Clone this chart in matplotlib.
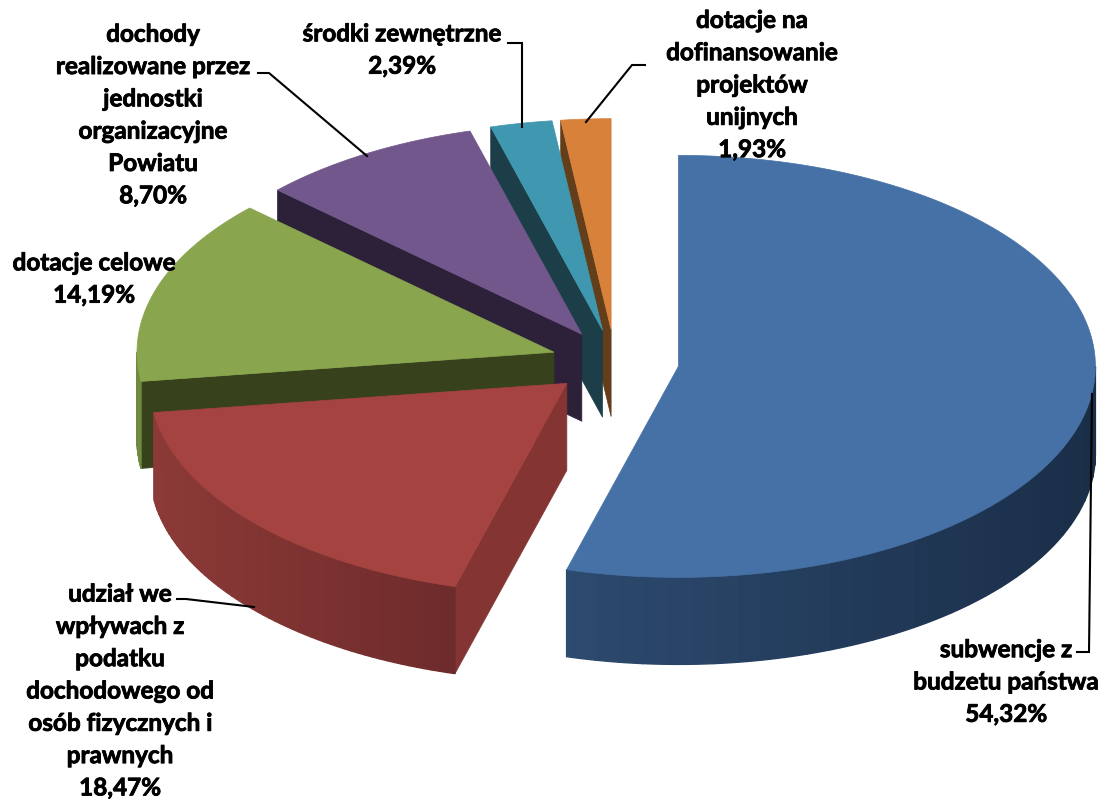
#!/usr/bin/env python3
"""
Exploded 3D pie chart of budget income shares
"""
import numpy as np
import matplotlib
matplotlib.use("Agg")
import matplotlib.pyplot as plt
import matplotlib.patheffects as pe
from matplotlib.colors import to_rgb

# Data, clockwise from 12 o'clock
labels = [
    "subwencje z\nbudzetu państwa",
    "udział we\nwpływach z\npodatku\ndochodowego od\nosób fizycznych i\nprawnych",
    "dotacje celowe",
    "dochody\nrealizowane przez\njednostki\norganizacyjne\nPowiatu",
    "środki zewnętrzne",
    "dotacje na\ndofinansowanie\nprojektów\nunijnych",
]
values = [54.32, 18.47, 14.19, 8.70, 2.39, 1.93]

# Colours: top face, outer side (left end, right end of the strip), radial side
top_colors = ["#4671A6", "#A54340", "#89A54E", "#71578C", "#4097B0", "#D8813B"]
rim_light = ["#2D4B70", "#8C3A37", "#6F8A3E", "#4A3A5E", "#2A5A6A", "#8A5020"]
rim_dark = ["#1A2E48", "#6E2B2B", "#6F8A3E", "#4A3A5E", "#2A5A6A", "#8A5020"]
side_colors = ["#2B4669", "#843533", "#37411C", "#2C2139", "#1B3E49", "#633E1A"]

# Layout in image pixels
CX, CY = 615, 362
RX, RY = 417, 211
EXPLODE = 64
DEPTH = 87

label_pos = [(1006, 682), (120, 691), (94, 279), (153, 115), (402, 50), (752, 85)]
leaders = [
    [(1077, 652), (1089, 652), (1092, 394)],
    [(177, 599), (186, 599), (254, 607)],
    None,
    [(258, 73), (269, 73), (367, 156)],
    [(508, 43), (522, 43), (522, 127)],
    [(645, 65), (632, 65), (586, 122)],
]


def rim(theta, x0, y0):
    """Point(s) on the ellipse, theta in radians clockwise from the top"""
    return x0 + RX * np.sin(theta), y0 - RY * np.cos(theta)


fig = plt.figure(figsize=(11.05, 7.99), dpi=100)
ax = fig.add_axes([0, 0, 1, 1])
ax.set_xlim(0, 1105)
ax.set_ylim(799, 0)
ax.axis("off")

edges = np.cumsum([0] + values) / sum(values) * 2 * np.pi

# Back wedges first, so the order is reversed
for i in range(len(values) - 1, -1, -1):
    start, end = edges[i], edges[i + 1]
    mid = (start + end) / 2
    x0 = CX + EXPLODE * np.sin(mid)
    y0 = CY - EXPLODE * RY / RX * np.cos(mid)
    arc = np.linspace(start, end, 240)
    ax_, ay_ = rim(arc, x0, y0)

    # radial side faces that look down at the viewer
    if i > 0:
        sx, sy = rim(start, x0, y0)
        ax.fill([sx, x0, x0, sx], [sy, y0, y0 + DEPTH, sy + DEPTH],
                color=side_colors[i], lw=0.5, zorder=i * -10 + 1)

    # outer side, only the lower half of the ellipse shows
    vis = arc[(arc > np.pi / 2) & (arc < 3 * np.pi / 2)]
    if len(vis) > 1:
        light, dark = np.array(to_rgb(rim_light[i])), np.array(to_rgb(rim_dark[i]))
        vx, vy = rim(vis, x0, y0)
        # the gradient runs left to right across the visible strip
        t = (vx - vx.min()) / max(vx.max() - vx.min(), 1)
        steps = 4
        for j in range(0, len(vis) - 1, steps):
            k = min(j + steps, len(vis) - 1)
            c = light + (dark - light) * t[j]
            ax.fill(np.r_[vx[j:k + 1], vx[j:k + 1][::-1]],
                    np.r_[vy[j:k + 1], vy[j:k + 1][::-1] + DEPTH],
                    color=c, lw=1.0, zorder=i * -10 + 2)

    ax.fill(np.r_[x0, ax_], np.r_[y0, ay_], color=top_colors[i], lw=0.5,
            zorder=i * -10 + 3)

for line in leaders:
    if line is not None:
        xs, ys = zip(*line)
        ax.plot(xs, ys, color="black", lw=1.5, zorder=5, solid_joinstyle="miter")

for name, val, (tx, ty) in zip(labels, values, label_pos):
    text = name + "\n" + f"{val:.2f}".replace(".", ",") + "%"
    t = ax.text(tx, ty, text, ha="center", va="center", family=["Lato", "DejaVu Sans"],
                fontweight="bold", fontsize=17.5, linespacing=1.49, color="black", zorder=6)
    t.set_path_effects([pe.withStroke(linewidth=0.6, foreground="black")])

fig.savefig("out.png", dpi=100)
